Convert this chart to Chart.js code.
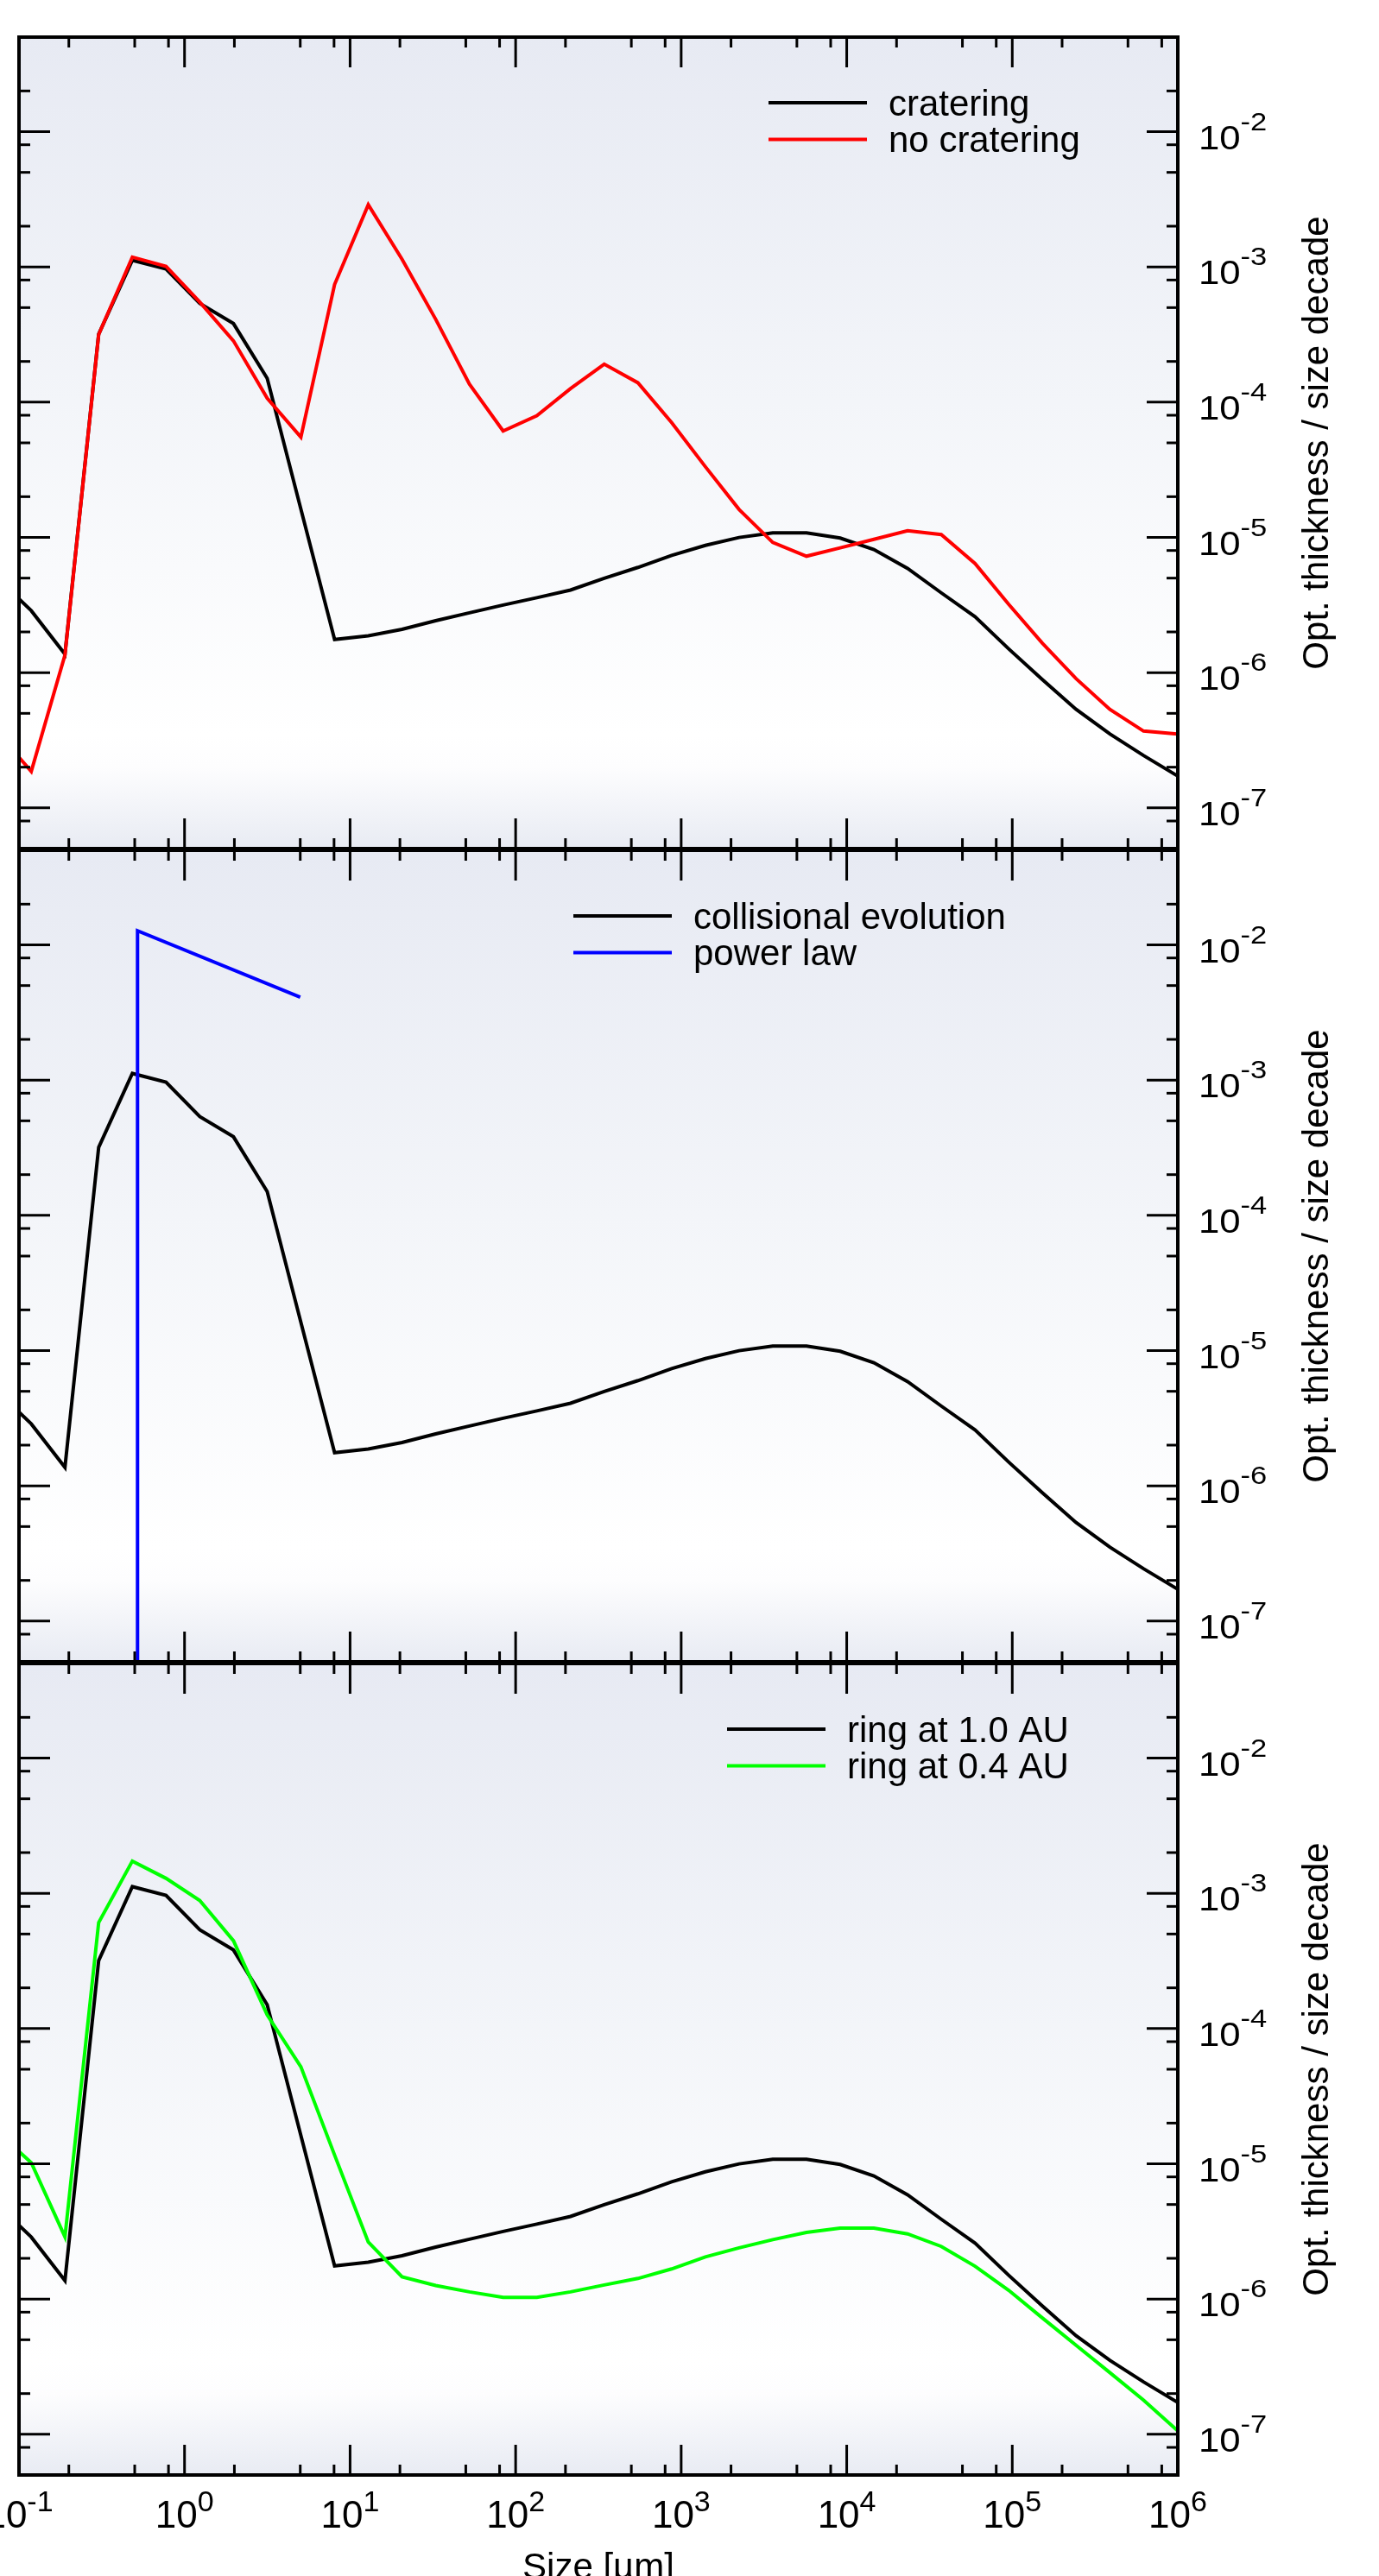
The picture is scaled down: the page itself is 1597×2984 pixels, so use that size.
<!DOCTYPE html>
<html>
<head>
<meta charset="utf-8">
<script src="https://cdn.jsdelivr.net/npm/chart.js@4.4.0/dist/chart.umd.min.js"></script>
<style>
  html, body { margin: 0; padding: 0; background: #fff; }
  body { width: 1597px; height: 2984px; position: relative; overflow: hidden; }
  canvas { position: absolute; left: 0; }
</style>
</head>
<body>
<canvas id="p1" width="1597" height="1100" style="top:0px"></canvas>
<canvas id="p2" width="1597" height="1100" style="top:942px"></canvas>
<canvas id="p3" width="1597" height="1100" style="top:1884px"></canvas>
<script>
// grain size grid [um]
const sizes = [0.0742, 0.1186, 0.1895, 0.3029, 0.4839, 0.7731, 1.236, 1.975, 3.157, 5.044,
  8.061, 12.88, 20.59, 32.90, 52.58, 84.03, 134.3, 214.6, 342.9, 548.0,
  875.8, 1400, 2237, 3575, 5713, 9130, 14590, 23320, 37260, 59550,
  95150, 152100, 243000, 388400, 620600, 991700]

// optical thickness per size decade
const cratering = [5.0e-6, 2.87e-6, 1.37e-6, 3.18e-4, 1.12e-3, 9.66e-4, 5.38e-4, 3.81e-4, 1.50e-4, 1.62e-5,
  1.76e-6, 1.87e-6, 2.09e-6, 2.42e-6, 2.77e-6, 3.16e-6, 3.58e-6, 4.08e-6, 4.98e-6, 6.00e-6,
  7.36e-6, 8.73e-6, 9.98e-6, 1.08e-5, 1.08e-5, 9.89e-6, 8.13e-6, 5.90e-6, 3.89e-6, 2.59e-6,
  1.50e-6, 8.87e-7, 5.35e-7, 3.52e-7, 2.44e-7, 1.73e-7]

const noCratering = [3.6e-7, 1.86e-7, 1.35e-6, 3.16e-4, 1.18e-3, 1.01e-3, 5.50e-4, 2.84e-4, 1.07e-4, 5.51e-5,
  7.41e-4, 2.88e-3, 1.14e-3, 4.10e-4, 1.36e-4, 6.12e-5, 7.93e-5, 1.26e-4, 1.91e-4, 1.39e-4,
  7.06e-5, 3.33e-5, 1.61e-5, 9.18e-6, 7.26e-6, 8.37e-6, 9.68e-6, 1.12e-5, 1.05e-5, 6.41e-6,
  3.20e-6, 1.65e-6, 9.03e-7, 5.35e-7, 3.70e-7, 3.52e-7]

const ring04 = [1.72e-5, 1.02e-5, 2.88e-6, 6.07e-4, 1.73e-3, 1.29e-3, 8.85e-4, 4.46e-4, 1.26e-4, 5.22e-5,
  1.16e-5, 2.64e-6, 1.46e-6, 1.26e-6, 1.13e-6, 1.03e-6, 1.03e-6, 1.13e-6, 1.27e-6, 1.42e-6,
  1.67e-6, 2.05e-6, 2.39e-6, 2.75e-6, 3.11e-6, 3.35e-6, 3.35e-6, 3.03e-6, 2.45e-6, 1.75e-6,
  1.16e-6, 7.24e-7, 4.55e-7, 2.86e-7, 1.79e-7, 1.07e-7]

const powerLawX = [0.52, 0.52, 5.0]
const powerLawY = [1e-9, 1.27e-2, 4.1e-3]

const xTickExps = [-1, 0, 1, 2, 3, 4, 5, 6]
const yTickExps = [-2, -3, -4, -5, -6, -7]
const minorSteps = [2, 5, 8]

const FONT = '"Liberation Sans", Arial, Helvetica, sans-serif'

function pts(xs, ys) {
  return xs.map((x, i) => ({ x: x, y: ys[i] }))
}

function line(ctx, x1, y1, x2, y2) {
  ctx.beginPath(); ctx.moveTo(x1, y1); ctx.lineTo(x2, y2); ctx.stroke()
}

// draws "10" with a raised exponent, x is left edge
function powerLabel(ctx, x, y, exp, size, supSize, rise, sx) {
  ctx.save()
  ctx.translate(x, y)
  ctx.scale(sx, 1)
  ctx.font = size + 'px ' + FONT
  ctx.fillText('10', 0, 0)
  let w = ctx.measureText('10').width
  ctx.font = supSize + 'px ' + FONT
  ctx.fillText(String(exp), w, -rise)
  ctx.restore()
}

function labelWidth(ctx, exp, size, supSize) {
  ctx.font = size + 'px ' + FONT
  let w = ctx.measureText('10').width
  ctx.font = supSize + 'px ' + FONT
  return w + ctx.measureText(String(exp)).width
}

const framePlugin = {
  id: 'frame',
  beforeDatasetsDraw(chart) {
    const a = chart.chartArea, ctx = chart.ctx
    const g = ctx.createLinearGradient(0, a.top, 0, a.bottom)
    g.addColorStop(0, '#e7eaf3')
    g.addColorStop(0.45, '#f3f5f9')
    g.addColorStop(0.86, '#ffffff')
    g.addColorStop(0.9, '#fdfdfe')
    g.addColorStop(1, '#e8ebf3')
    ctx.save()
    ctx.fillStyle = g
    ctx.fillRect(a.left, a.top, a.right - a.left, a.bottom - a.top)
    ctx.restore()
  },
  afterDatasetsDraw(chart, args, opts) {
    const a = chart.chartArea, ctx = chart.ctx
    const xs = chart.scales.x, ys = chart.scales.y
    ctx.save()
    ctx.strokeStyle = '#000'
    ctx.fillStyle = '#000'
    ctx.lineWidth = 3

    // ticks on all four sides, pointing inward
    for (let e = -2; e <= 6; e++) {
      [1].concat(minorSteps).forEach((m) => {
        let v = m * Math.pow(10, e)
        if (v <= xs.min || v >= xs.max) return
        let px = xs.getPixelForValue(v), len = m === 1 ? 35 : 12
        line(ctx, px, a.bottom, px, a.bottom - len)
        line(ctx, px, a.top, px, a.top + len)
      })
    }
    for (let e = -9; e <= -1; e++) {
      [1].concat(minorSteps).forEach((m) => {
        let v = m * Math.pow(10, e)
        if (v <= ys.min || v >= ys.max) return
        let py = ys.getPixelForValue(v), len = m === 1 ? 36 : 13
        line(ctx, a.left, py, a.left + len, py)
        line(ctx, a.right, py, a.right - len, py)
      })
    }

    ctx.lineWidth = 4
    ctx.strokeRect(a.left, a.top, a.right - a.left, a.bottom - a.top)

    // y tick labels on the right
    ctx.textAlign = 'left'
    ctx.textBaseline = 'alphabetic'
    yTickExps.forEach((e) => {
      let py = ys.getPixelForValue(Math.pow(10, e))
      powerLabel(ctx, a.right + 24, py + 20, e, 38, 30, 22, 1.15)
    })

    // y axis title
    ctx.save()
    ctx.translate(a.right + 162, (a.top + a.bottom) / 2)
    ctx.rotate(-Math.PI / 2)
    ctx.textAlign = 'center'
    ctx.textBaseline = 'middle'
    ctx.font = '42px ' + FONT
    ctx.fillText('Opt. thickness / size decade', 0, 0)
    ctx.restore()

    // legend
    ctx.lineWidth = 4
    ctx.font = '42px ' + FONT
    chart.data.datasets.forEach((ds, i) => {
      let ly = a.top + 76 + i * 42.4
      ctx.strokeStyle = ds.borderColor
      line(ctx, opts.legendX, ly, opts.legendX + 114, ly)
      ctx.fillText(ds.label, opts.legendX + 139, ly + 15)
    })

    // x tick labels and title only under the last panel
    if (opts.xLabels) {
      xTickExps.forEach((e) => {
        let px = xs.getPixelForValue(Math.pow(10, e))
        let w = labelWidth(ctx, e, 44, 34)
        powerLabel(ctx, px - w / 2, a.bottom + 61, e, 44, 34, 19, 1)
      })
      ctx.textAlign = 'center'
      ctx.font = '42px ' + FONT
      ctx.fillText('Size [\u00b5m]', (a.left + a.right) / 2, a.bottom + 120)
    }
    ctx.restore()
  }
}

function makePanel(id, datasets, xLabels, legendX) {
  return new Chart(document.getElementById(id), {
    type: 'line',
    data: { datasets: datasets },
    options: {
      responsive: false,
      animation: false,
      devicePixelRatio: 1,
      events: [],
      layout: { padding: { left: 22, right: 233, top: 43, bottom: 117 } },
      scales: {
        x: { type: 'logarithmic', min: 0.1, max: 1e6, display: false },
        y: { type: 'logarithmic', min: 5e-8, max: 5e-2, display: false }
      },
      elements: { point: { radius: 0 }, line: { borderWidth: 4, tension: 0 } },
      plugins: {
        legend: { display: false },
        tooltip: { enabled: false },
        frame: { xLabels: xLabels, legendX: legendX }
      }
    },
    plugins: [framePlugin]
  })
}

function series(label, xs, ys, color, order) {
  return { label: label, data: pts(xs, ys), borderColor: color, backgroundColor: color,
    borderWidth: 4, fill: false, clip: 0, order: order }
}

makePanel('p1', [
  series('cratering', sizes, cratering, '#000000', 2),
  series('no cratering', sizes, noCratering, '#ff0000', 1)
], false, 890)

makePanel('p2', [
  series('collisional evolution', sizes, cratering, '#000000', 2),
  series('power law', powerLawX, powerLawY, '#0000ff', 1)
], false, 664)

makePanel('p3', [
  series('ring at 1.0 AU', sizes, cratering, '#000000', 2),
  series('ring at 0.4 AU', sizes, ring04, '#00ff00', 1)
], true, 842)
</script>
</body>
</html>
